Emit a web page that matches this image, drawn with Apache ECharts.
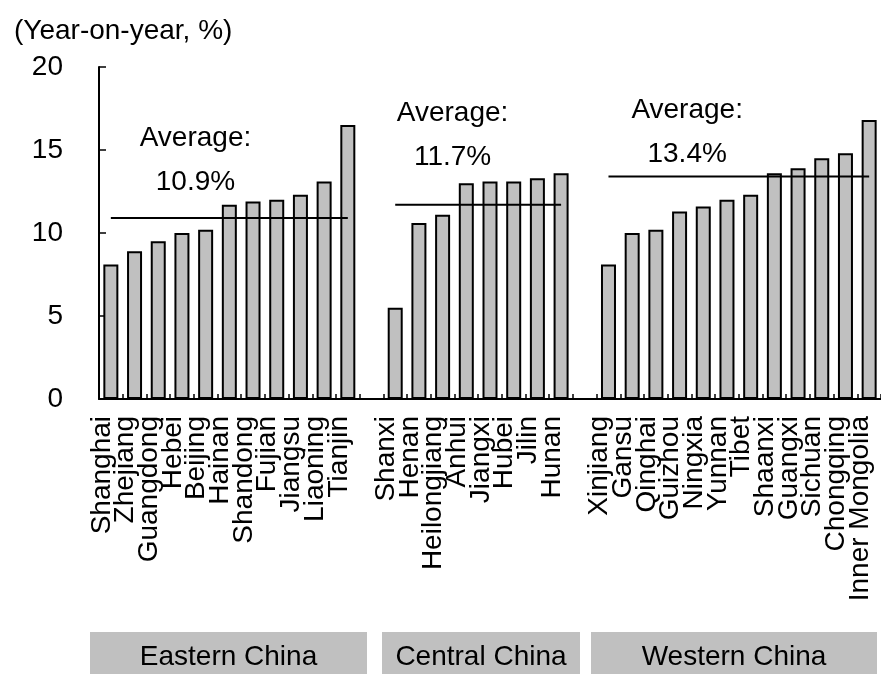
<!DOCTYPE html>
<html>
<head>
<meta charset="utf-8">
<script src="https://cdn.jsdelivr.net/npm/echarts@6/dist/echarts.min.js"></script>
<style>
html,body{margin:0;padding:0;background:#fff;}
#chart{width:881px;height:674px;}
</style>
</head>
<body>
<div id="chart"></div>
<script>
// ---- data ----
const eastNames = ['Shanghai','Zhejiang','Guangdong','Hebei','Beijing','Hainan','Shandong','Fujian','Jiangsu','Liaoning','Tianjin'];
const eastValues = [8.1, 8.9, 9.5, 10.0, 10.2, 11.7, 11.9, 12.0, 12.3, 13.1, 16.5];
const centralNames = ['Shanxi','Henan','Heilongjiang','Anhui','Jiangxi','Hubei','Jilin','Hunan'];
const centralValues = [5.5, 10.6, 11.1, 13.0, 13.1, 13.1, 13.3, 13.6];
const westNames = ['Xinjiang','Gansu','Qinghai','Guizhou','Ningxia','Yunnan','Tibet','Shaanxi','Guangxi','Sichuan','Chongqing','Inner Mongolia'];
const westValues = [8.1, 10.0, 10.2, 11.3, 11.6, 12.0, 12.3, 13.6, 13.9, 14.5, 14.8, 16.8];
const regionNames = ['Eastern China','Central China','Western China'];
const regionAverages = [10.9, 11.7, 13.4];
const avgLabelTexts = ['10.9%','11.7%','13.4%'];
const yTickValues = [0, 5, 10, 15, 20];
const yTitle = '(Year-on-year, %)';

// ---- build ----
const groups = [
  {names: eastNames, values: eastValues},
  {names: centralNames, values: centralValues},
  {names: westNames, values: westValues}
];
const categories = [];
const barData = [];
const avgData = [];
groups.forEach((g, gi) => {
  if (gi > 0) { categories.push(''); barData.push('-'); avgData.push('-'); }
  g.names.forEach((n, i) => {
    categories.push(n);
    barData.push(g.values[i]);
    avgData.push(regionAverages[gi]);
  });
});

const FONT = "'Liberation Sans', Arial, sans-serif";
const chart = echarts.init(document.getElementById('chart'), null, {renderer: 'canvas'});

const option = {
  animation: false,
  backgroundColor: '#ffffff',
  title: {
    text: yTitle, left: 9, top: 12,
    textStyle: {fontFamily: FONT, fontSize: 28, fontWeight: 'normal', color: '#000'}
  },
  grid: {left: 99, top: 67, width: 787, height: 332, containLabel: false},
  xAxis: {
    type: 'category',
    data: categories,
    boundaryGap: true,
    axisLine: {lineStyle: {color: '#000', width: 2}},
    axisTick: {show: true, inside: true, length: 5, interval: 0, lineStyle: {color: '#000', width: 1.5}},
    axisLabel: {
      interval: 0, rotate: 90, margin: 17,
      fontFamily: FONT, fontSize: 28, color: '#000',
      verticalAlign: 'bottom', lineHeight: 18
    }
  },
  yAxis: {
    type: 'value',
    min: yTickValues[0], max: yTickValues[yTickValues.length - 1], interval: 5,
    axisLine: {show: true, lineStyle: {color: '#000', width: 2}},
    axisTick: {show: true, inside: true, length: 7, lineStyle: {color: '#000', width: 1.5}},
    splitLine: {show: false},
    axisLabel: {margin: 36, fontFamily: FONT, fontSize: 28, color: '#000'}
  },
  series: [
    {
      type: 'bar',
      data: barData,
      barWidth: 15,
      itemStyle: {color: '#c0c0c0', borderColor: '#000', borderWidth: 2},
      z: 2
    },
    {
      type: 'line',
      data: avgData,
      showSymbol: false,
      symbol: 'none',
      connectNulls: false,
      lineStyle: {color: '#000', width: 2},
      z: 3
    }
  ]
};
chart.setOption(option);

// annotation placement in data space: [categoryIndex (fractional), value]
const annotPos = [[3.57, 14.37], [14.42, 15.87], [24.32, 16.07]];
function px(idx, val) {
  const i0 = Math.floor(idx), f = idx - i0;
  const a = chart.convertToPixel({xAxisIndex: 0, yAxisIndex: 0}, [i0, val]);
  const b = chart.convertToPixel({xAxisIndex: 0, yAxisIndex: 0}, [i0 + 1, val]);
  return [a[0] + (b[0] - a[0]) * f, a[1]];
}
const graphics = [];
annotPos.forEach((p, i) => {
  const q = px(p[0], p[1]);
  graphics.push({
    type: 'text', x: q[0], y: q[1], z: 10,
    style: {
      text: 'Average:\n' + avgLabelTexts[i],
      fontFamily: FONT, fontSize: 28, fill: '#000',
      align: 'center', verticalAlign: 'middle', lineHeight: 44
    }
  });
});
// region boxes along the bottom
const boxes = [[90, 367], [382, 580], [591, 877]];
boxes.forEach((b, i) => {
  graphics.push({
    type: 'rect', shape: {x: b[0], y: 632, width: b[1] - b[0], height: 48},
    style: {fill: '#c0c0c0'}, z: 5
  });
  graphics.push({
    type: 'text', x: (b[0] + b[1]) / 2, y: 657, z: 6,
    style: {text: regionNames[i], fontFamily: FONT, fontSize: 28, fill: '#000', align: 'center', verticalAlign: 'middle'}
  });
});
chart.setOption({graphic: graphics});
</script>
</body>
</html>
